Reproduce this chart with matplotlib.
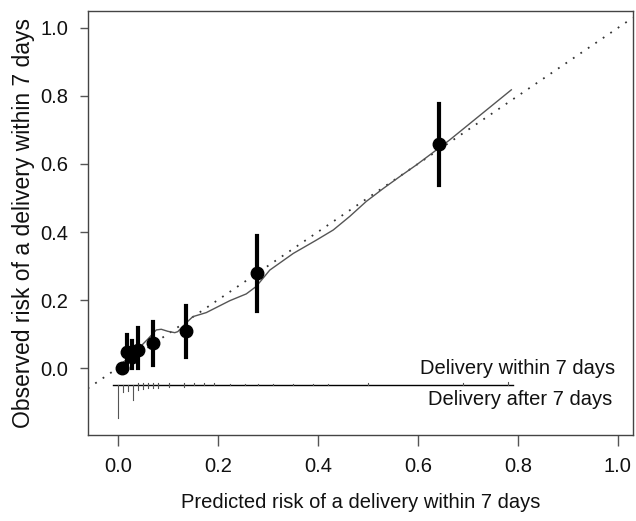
import matplotlib
matplotlib.use("Agg")
import matplotlib.pyplot as plt
import numpy as np

plt.rcParams['font.family'] = ['Liberation Sans', 'DejaVu Sans']

# grouped observations
pred = [0.008, 0.018, 0.028, 0.040, 0.070, 0.136, 0.278, 0.642]
obs = [0.0, 0.047, 0.032, 0.053, 0.074, 0.109, 0.279, 0.659]
lo = [0.0, 0.0, 0.0, 0.0, 0.01, 0.032, 0.168, 0.538]
hi = [0.01, 0.097, 0.08, 0.118, 0.135, 0.182, 0.388, 0.776]

# smooth calibration curve
sm_x = [0.005, 0.03, 0.06, 0.077, 0.087, 0.10, 0.114, 0.12, 0.137, 0.15, 0.177,
        0.224, 0.257, 0.277, 0.304, 0.351, 0.397, 0.431, 0.464, 0.497, 0.531,
        0.564, 0.597, 0.637, 0.664, 0.787]
sm_y = [0.01, 0.04, 0.085, 0.112, 0.114, 0.108, 0.104, 0.107, 0.133, 0.151, 0.163,
        0.198, 0.218, 0.24, 0.288, 0.337, 0.376, 0.406, 0.446, 0.49, 0.528,
        0.563, 0.597, 0.641, 0.671, 0.818]

# rug: events (up) and non-events (down)
rug_up_x = [0.041, 0.051, 0.061, 0.071, 0.081, 0.102, 0.133, 0.153, 0.173, 0.192,
            0.224, 0.254, 0.281, 0.311, 0.351, 0.391, 0.42, 0.50, 0.69, 0.78]
rug_up_len = [0.006, 0.006, 0.006, 0.006, 0.006, 0.006, 0.006, 0.006, 0.006, 0.006,
              0.004, 0.004, 0.004, 0.004, 0.004, 0.004, 0.004, 0.006, 0.006, 0.008]
rug_dn_x = [0.0, 0.011, 0.021, 0.031, 0.041, 0.051, 0.061, 0.071, 0.081, 0.102, 0.133]
rug_dn_len = [0.097, 0.02, 0.018, 0.044, 0.015, 0.012, 0.01, 0.01, 0.008, 0.006, 0.006]
rug_y = -0.05
rug_start, rug_end = -0.01, 0.79

fig = plt.figure(figsize=(6.36, 5.21), dpi=100)
ax = fig.add_axes([0.138, 0.165, 0.857, 0.814])
ax.set_xlim(-0.06, 1.03)
ax.set_ylim(-0.197, 1.05)

ax.plot([-0.06, 1.03], [-0.06, 1.03], color='#333333', linestyle=(0, (1, 4)), lw=1.3)
ax.plot(sm_x, sm_y, color='#555555', lw=1.0)

for x, l, h in zip(pred, lo, hi):
    ax.plot([x, x], [l, h], color='black', lw=3)
ax.plot(pred, obs, 'o', color='black', markersize=9)

ax.plot([rug_start, rug_end], [rug_y, rug_y], color='black', lw=1)
for x, L in zip(rug_up_x, rug_up_len):
    ax.plot([x, x], [rug_y, rug_y + L], color='#555555', lw=0.8)
for x, L in zip(rug_dn_x, rug_dn_len):
    ax.plot([x, x], [rug_y, rug_y - L], color='#555555', lw=0.8)

ax.text(0.995, -0.0, 'Delivery within 7 days', ha='right', va='center', fontsize=14.5, color='#111111')
ax.text(0.988, -0.092, 'Delivery after 7 days', ha='right', va='center', fontsize=14.5, color='#111111')

ax.set_xticks([0, 0.2, 0.4, 0.6, 0.8, 1.0])
ax.set_xticklabels(['0.0', '0.2', '0.4', '0.6', '0.8', '1.0'])
ax.set_yticks([0, 0.2, 0.4, 0.6, 0.8, 1.0])
ax.set_yticklabels(['0.0', '0.2', '0.4', '0.6', '0.8', '1.0'])
ax.tick_params(axis='both', labelsize=14.5, width=1, color='#555555', labelcolor='#111111')
ax.tick_params(axis='x', length=8, pad=8)
ax.tick_params(axis='y', length=6, pad=8)
for s in ax.spines.values():
    s.set_color('#444444')
    s.set_linewidth(1)

ax.set_xlabel('Predicted risk of a delivery within 7 days', fontsize=14.5, labelpad=12, color='#111111')
ax.set_ylabel('Observed risk of a delivery within 7 days', fontsize=16.5, labelpad=4, color='#111111')

fig.savefig('out.png', dpi=100)
